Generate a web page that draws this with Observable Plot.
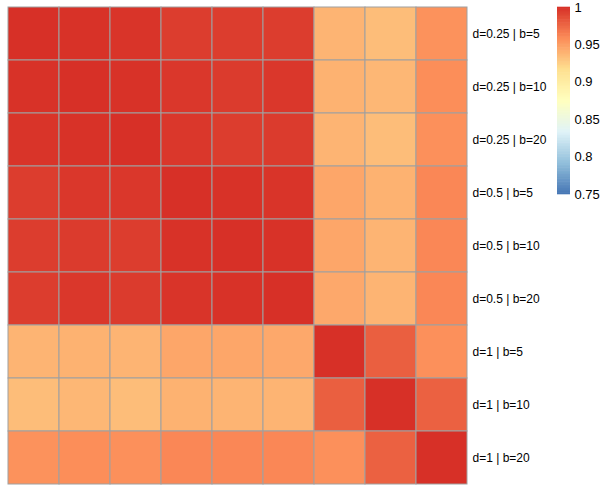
<!DOCTYPE html>
<html>
<head>
<meta charset="utf-8">
<script src="https://cdn.jsdelivr.net/npm/d3@7"></script>
<script src="https://cdn.jsdelivr.net/npm/@observablehq/plot@0.6"></script>
<style>
  html, body { margin: 0; padding: 0; background: #fff; }
  #wrap { position: relative; width: 600px; height: 487px; }
  #wrap svg { position: absolute; left: 0; top: 0; }
</style>
</head>
<body>
<div id="wrap"></div>
<script>
const rowLabels = [
  "d=0.25 | b=5", "d=0.25 | b=10", "d=0.25 | b=20",
  "d=0.5 | b=5", "d=0.5 | b=10", "d=0.5 | b=20",
  "d=1 | b=5", "d=1 | b=10", "d=1 | b=20"
];
const colKeys = [1, 2, 3, 4, 5, 6, 7, 8, 9];

const values = [
  [1.000, 0.999, 0.998, 0.994, 0.994, 0.994, 0.939, 0.934, 0.956],
  [0.999, 1.000, 0.999, 0.997, 0.995, 0.997, 0.940, 0.937, 0.958],
  [0.998, 0.999, 1.000, 0.997, 0.994, 0.995, 0.939, 0.934, 0.957],
  [0.994, 0.997, 0.997, 1.000, 0.999, 0.998, 0.946, 0.940, 0.961],
  [0.994, 0.995, 0.994, 0.999, 1.000, 0.999, 0.946, 0.939, 0.961],
  [0.994, 0.997, 0.995, 0.998, 0.999, 1.000, 0.945, 0.939, 0.961],
  [0.939, 0.940, 0.939, 0.946, 0.946, 0.945, 1.000, 0.979, 0.957],
  [0.934, 0.937, 0.934, 0.940, 0.939, 0.939, 0.979, 1.000, 0.978],
  [0.956, 0.958, 0.957, 0.961, 0.961, 0.961, 0.957, 0.978, 1.000]
];

const legendTicks = [0.75, 0.8, 0.85, 0.9, 0.95, 1];
const paletteColors = ["#4575b4", "#91bfdb", "#e0f3f8", "#ffffbf", "#fee090", "#fc8d59", "#d73027"];
const colorDomain = [0.75, 1];

const stops = paletteColors.map((_, i) => colorDomain[0] + i * (colorDomain[1] - colorDomain[0]) / (paletteColors.length - 1));
const colorScale = {type: "linear", domain: stops, range: paletteColors, interpolate: "rgb", clamp: true};

const cells = [];
values.forEach((row, i) => row.forEach((v, j) => cells.push({row: rowLabels[i], col: colKeys[j], value: v})));

const heat = Plot.plot({
  width: 600,
  height: 487,
  marginLeft: 7,
  marginRight: 133,
  marginTop: 6,
  marginBottom: 3,
  style: {background: "transparent", fontFamily: "'Liberation Sans', Arial, Helvetica, sans-serif", fontSize: "12px", color: "#000"},
  x: {domain: colKeys, padding: 0, axis: null},
  y: {domain: rowLabels, padding: 0},
  color: colorScale,
  marks: [
    Plot.cell(cells, {x: "col", y: "row", fill: "value", stroke: "#a0a0a0", strokeWidth: 1, inset: 0}),
    Plot.axisY({anchor: "right", tickSize: 0, tickPadding: 5, label: null, fontSize: 12, fill: "#000"})
  ]
});

// color bar legend built through its own linear y scale
const nSlices = 120;
const slices = d3.range(nSlices).map(i => {
  const lo = colorDomain[0] + i * (colorDomain[1] - colorDomain[0]) / nSlices;
  const hi = colorDomain[0] + (i + 1) * (colorDomain[1] - colorDomain[0]) / nSlices;
  return {y1: lo, y2: hi, v: (lo + hi) / 2};
});

const legend = Plot.plot({
  width: 600,
  height: 487,
  marginLeft: 557,
  marginRight: 30,
  marginTop: 7,
  marginBottom: 487 - 194,
  style: {background: "transparent", fontFamily: "'Liberation Sans', Arial, Helvetica, sans-serif", fontSize: "13px", color: "#000"},
  x: {domain: [0, 1], axis: null},
  y: {domain: colorDomain},
  color: colorScale,
  marks: [
    Plot.rect(slices, {x1: 0, x2: 1, y1: "y1", y2: "y2", fill: "v", inset: 0, insetTop: -0.3, insetBottom: -0.3}),
    Plot.axisY({anchor: "right", ticks: legendTicks, tickSize: 0, tickPadding: 4, label: null, tickFormat: d3.format("~g"), fontSize: 13, fill: "#000"})
  ]
});
legend.style.pointerEvents = "none";

const wrap = document.getElementById("wrap");
wrap.appendChild(heat);
wrap.appendChild(legend);
</script>
</body>
</html>
